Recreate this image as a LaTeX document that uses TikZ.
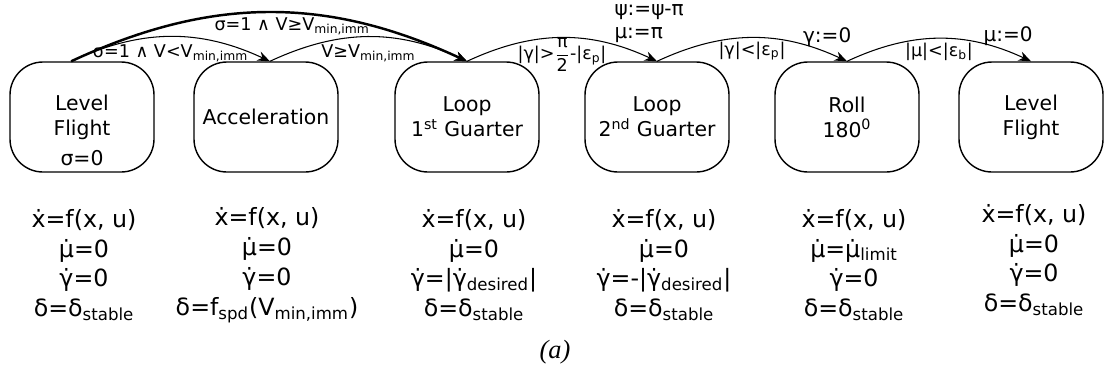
\documentclass[tikz,border=0pt]{standalone}
\usepackage{amsmath}
\usepackage{fontspec}
\setmainfont{DejaVu Sans}
\newfontfamily\capfont{Liberation Serif}
\usepackage{tikz}
\usetikzlibrary{arrows.meta,positioning}

\begin{document}
\begin{tikzpicture}[
  x=0.2mm,
  y=0.2mm,
  mode/.style={draw, line width=0.8pt, rounded corners=6.6mm, minimum width=28.8mm, minimum height=22mm, inner sep=0pt, align=center, font=\fontsize{11.6}{14.2}\selectfont},
  dynamics/.style={align=center, inner sep=0pt, font=\fontsize{13.5}{17}\selectfont},
  switch/.style={-{Stealth[length=7pt, width=5.5pt]}, line width=0.6pt, bend left=25},
  guard/.style={font=\fontsize{10}{12}\selectfont, inner sep=2pt},
  reset/.style={font=\fontsize{11.4}{13}\selectfont, align=left, inner sep=1pt}
]
  \useasboundingbox (0,0) rectangle (1109,-378);

  \node[mode] (lf1) at (82,-117) {Level\\Flight};
  \node[font=\fontsize{11.6}{14.2}\selectfont] (lf1sig) at (82,-158) {σ=0};
  \node[mode] (acc) at (266,-117) {Acceleration};
  \node[mode] (loop1) at (467,-117) {Loop\\1\textsuperscript{st} Guarter};
  \node[mode] (loop2) at (657,-117) {Loop\\2\textsuperscript{nd} Guarter};
  \node[mode] (roll) at (847,-117) {Roll\\180\textsuperscript{0}};
  \node[mode] (lf2) at (1031,-117) {Level\\Flight};

  \node[dynamics] (dlf1) at (84,-265) {ẋ=f(x, u)\\μ̇=0\\γ̇=0\\δ=δ\textsubscript{stable}};
  \node[dynamics] (dacc) at (267,-265) {ẋ=f(x, u)\\μ̇=0\\γ̇=0\\δ=f\textsubscript{spd}(V\textsubscript{min,imm})};
  \node[dynamics] (dloop1) at (474,-265) {ẋ=f(x, u)\\μ̇=0\\γ̇=|γ̇\textsubscript{desired}|\\δ=δ\textsubscript{stable}};
  \node[dynamics] (dloop2) at (664,-265) {ẋ=f(x, u)\\μ̇=0\\γ̇=-|γ̇\textsubscript{desired}|\\δ=δ\textsubscript{stable}};
  \node[dynamics] (droll) at (854,-265) {ẋ=f(x, u)\\μ̇=μ̇\textsubscript{limit}\\γ̇=0\\δ=δ\textsubscript{stable}};
  \node[dynamics] (dlf2) at (1034,-260) {ẋ=f(x, u)\\μ̇=0\\γ̇=0\\δ=δ\textsubscript{stable}};

  \draw[switch, line width=1.4pt] (lf1.101) to
    node[guard, below, pos=0.56] {σ=1 ∧ V≥V\textsubscript{min,imm}} (loop1.north);
  \draw[switch] (lf1.101) to
    node[guard, below, inner sep=4pt] {σ=1 ∧ V<V\textsubscript{min,imm}} (acc.86);
  \draw[switch] (acc.86) to
    node[guard, below, inner sep=4pt] {V≥V\textsubscript{min,imm}} (loop1.north);
  \draw[switch] (loop1.north) to
    node[guard, below, inner sep=0pt] {|γ|>$\dfrac{\text{π}}{\text{2}}$-|ε\textsubscript{p}|}
    node[reset, pos=0.77, anchor=south west] {ψ:=ψ-π\\μ:=π} (loop2.north);
  \draw[switch] (loop2.north) to
    node[guard, below] {|γ|<|ε\textsubscript{p}|}
    node[reset, pos=0.9, above=2pt] {γ:=0} (roll.north);
  \draw[switch] (roll.north) to
    node[guard, below] {|μ|<|ε\textsubscript{b}|}
    node[reset, pos=0.88, above=2pt] {μ:=0} (lf2.north);

  \node[font=\capfont\itshape\fontsize{15}{18}\selectfont] (cap) at (555,-352) {(a)};
\end{tikzpicture}
\end{document}
